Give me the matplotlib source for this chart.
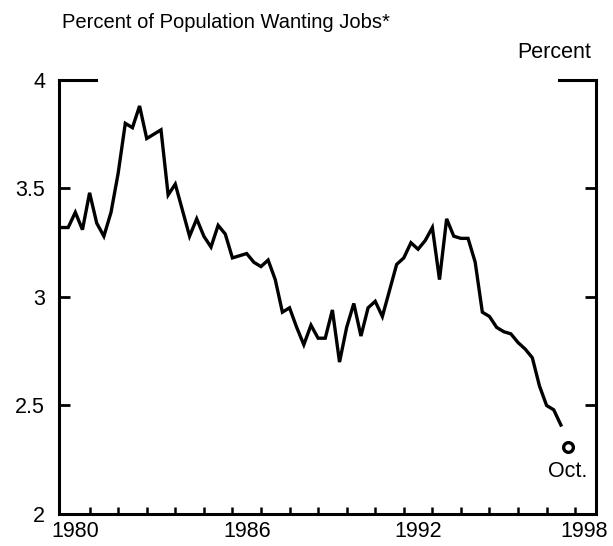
import numpy as np
import matplotlib
matplotlib.use("Agg")
import matplotlib.pyplot as plt

plt.rcParams['font.family'] = ['Liberation Sans', 'DejaVu Sans']

# quarterly share of population wanting jobs, 1980Q1 - 1997Q3
start_year = 1980
wanting_jobs = [
    3.32, 3.32, 3.39, 3.31, 3.48, 3.34, 3.28, 3.39, 3.57, 3.80,
    3.78, 3.88, 3.73, 3.75, 3.77, 3.47, 3.52, 3.40, 3.28, 3.36,
    3.28, 3.23, 3.33, 3.29, 3.18, 3.19, 3.20, 3.16, 3.14, 3.17,
    3.08, 2.93, 2.95, 2.86, 2.78, 2.87, 2.81, 2.81, 2.94, 2.70,
    2.86, 2.97, 2.82, 2.95, 2.98, 2.91, 3.03, 3.15, 3.18, 3.25,
    3.22, 3.26, 3.32, 3.08, 3.36, 3.28, 3.27, 3.27, 3.16, 2.93,
    2.91, 2.86, 2.84, 2.83, 2.79, 2.76, 2.72, 2.59, 2.50, 2.48,
    2.41,
]
oct_date = 1997.75
oct_value = 2.31

year_labels = ['1980', '1986', '1992', '1998']
y_ticks = [2, 2.5, 3, 3.5, 4]
y_labels = ['2', '2.5', '3', '3.5', '4']

fs = 15.5

dates = start_year + np.arange(len(wanting_jobs)) / 4.0

fig = plt.figure(figsize=(6.13, 5.46), dpi=100)
ax = fig.add_axes([0.0963, 0.0586, 0.876, 0.795])

ax.plot(dates, wanting_jobs, color='black', lw=2.4, solid_joinstyle='miter')
ax.plot([oct_date], [oct_value], 'o', mfc='white', mec='black', mew=2.4, ms=7)
ax.text(oct_date, oct_value - 0.065, 'Oct.', ha='center', va='top', fontsize=fs)

ax.set_xlim(1979.93, 1998.73)
ax.set_ylim(2, 4)

# year ticks inside, labels centred on mid-year
ax.set_xticks(np.arange(1981, 1999))
ax.set_xticklabels([])
ax.set_xticks([int(y) + 0.5 for y in year_labels[:-1]] + [1998.3], minor=True)
ax.set_xticklabels(year_labels, minor=True, fontsize=fs)
ax.tick_params(axis='x', which='major', direction='in', length=5, width=1.8)
ax.tick_params(axis='x', which='minor', length=0, pad=5)

ax.set_yticks(y_ticks)
ax.set_yticklabels(y_labels, fontsize=fs)
ax.tick_params(axis='y', direction='in', length=8, width=2, left=True, right=True, pad=10)

for s in ['left', 'right', 'bottom']:
    ax.spines[s].set_linewidth(2.2)
ax.spines['top'].set_visible(False)
# broken top frame
ax.plot([0, 0.069], [1, 1], transform=ax.transAxes, color='black', lw=2.2, clip_on=False)
ax.plot([0.931, 1], [1, 1], transform=ax.transAxes, color='black', lw=2.2, clip_on=False)

fig.text(0.101, 0.958, 'Percent of Population Wanting Jobs*', fontsize=14.5, va='center', ha='left')
fig.text(0.965, 0.903, 'Percent', fontsize=fs, va='center', ha='right')

fig.savefig('out.png', dpi=100)
